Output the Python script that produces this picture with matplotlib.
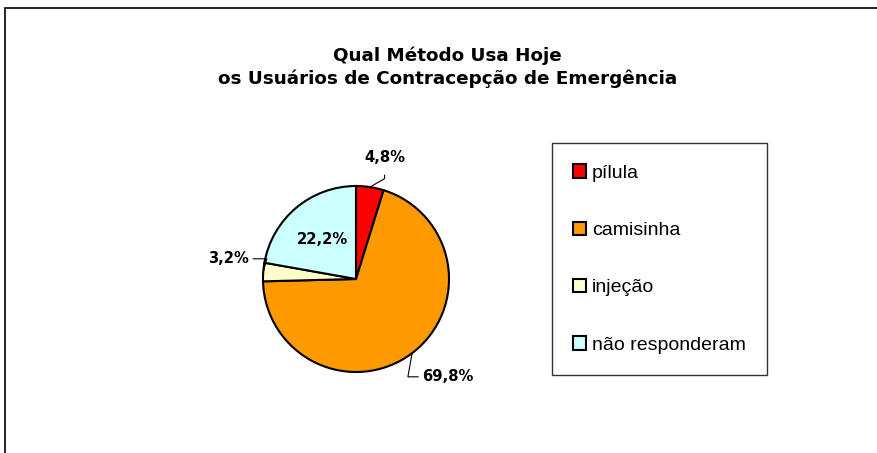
import numpy as np
import matplotlib.pyplot as plt
from matplotlib.patches import Rectangle

categorias = ["pílula", "camisinha", "injeção", "não responderam"]
valores = [4.8, 69.8, 3.2, 22.2]
rotulos = ["4,8%", "69,8%", "3,2%", "22,2%"]
cores = ["#FF0000", "#FF9900", "#FFFFCC", "#CCFFFF"]

W, H = 877, 453
fig = plt.figure(figsize=(W / 100, H / 100), dpi=100)

# moldura da área do gráfico (cortada à direita e embaixo)
fig.patches.append(Rectangle((5 / W, -0.1), 1.2, 1 - 8 / H + 0.1,
                             transform=fig.transFigure, fill=False,
                             edgecolor="black", linewidth=1.2))

fig.text(447.5 / W, 1 - 67.5 / H,
         "Qual Método Usa Hoje\nos Usuários de Contracepção de Emergência",
         ha="center", va="center", fontsize=13.2, fontweight="bold",
         family="DejaVu Sans", linespacing=1.32)

# eixo do pie: centro (356, 279), raio 93 px, limites +-1.6
R = 93
lado = 3.2 * R
ax = fig.add_axes([(356 - lado / 2) / W, (H - 279 - lado / 2) / H, lado / W, lado / H])

wedges, _ = ax.pie(valores, colors=cores, startangle=90, counterclock=False,
                   wedgeprops=dict(edgecolor="black", linewidth=1.5))
ax.set_xlim(-1.6, 1.6)
ax.set_ylim(-1.6, 1.6)
ax.set_aspect("equal")
ax.axis("off")

# deslocamento do rótulo (pontos) a partir da borda da fatia
desloc = [(10.5, 21), (26, -17), (-25, 9.5), None]
conexao = [
    dict(relpos=(0.5, 0), shrinkA=5, connectionstyle="angle,angleA=90,angleB=30,rad=0"),
    dict(relpos=(0, 0.5), shrinkA=1, connectionstyle="angle,angleA=0,angleB=80,rad=0"),
    dict(relpos=(1, 0.5), shrinkA=1, connectionstyle="angle,angleA=0,angleB=75,rad=0"),
    None,
]

for w, txt, d, c in zip(wedges, rotulos, desloc, conexao):
    ang = np.deg2rad((w.theta1 + w.theta2) / 2)
    if d is None:
        ax.text(0.56 * np.cos(ang), 0.56 * np.sin(ang), txt, ha="center", va="center",
                fontsize=10.6, fontweight="bold", family="DejaVu Sans")
        continue
    ax.annotate(txt, xy=(np.cos(ang), np.sin(ang)), xytext=d, textcoords="offset points",
                ha="center", va="center", fontsize=10.6, fontweight="bold",
                family="DejaVu Sans",
                arrowprops=dict(arrowstyle="-", color="black", linewidth=0.8,
                                shrinkB=0, **c))

leg = ax.legend(wedges, categorias, loc="upper left",
                bbox_to_anchor=(551.7 / W, 1 - 143.3 / H), bbox_transform=fig.transFigure,
                borderaxespad=0, frameon=True, fancybox=False, edgecolor="black",
                prop=dict(family="Liberation Sans", size=14),
                handlelength=0.7, handleheight=0.7, handletextpad=0.3,
                labelspacing=2.04, borderpad=1.08)
leg.get_frame().set_linewidth(1.0)

fig.savefig("out.png", dpi=100, facecolor="white")
